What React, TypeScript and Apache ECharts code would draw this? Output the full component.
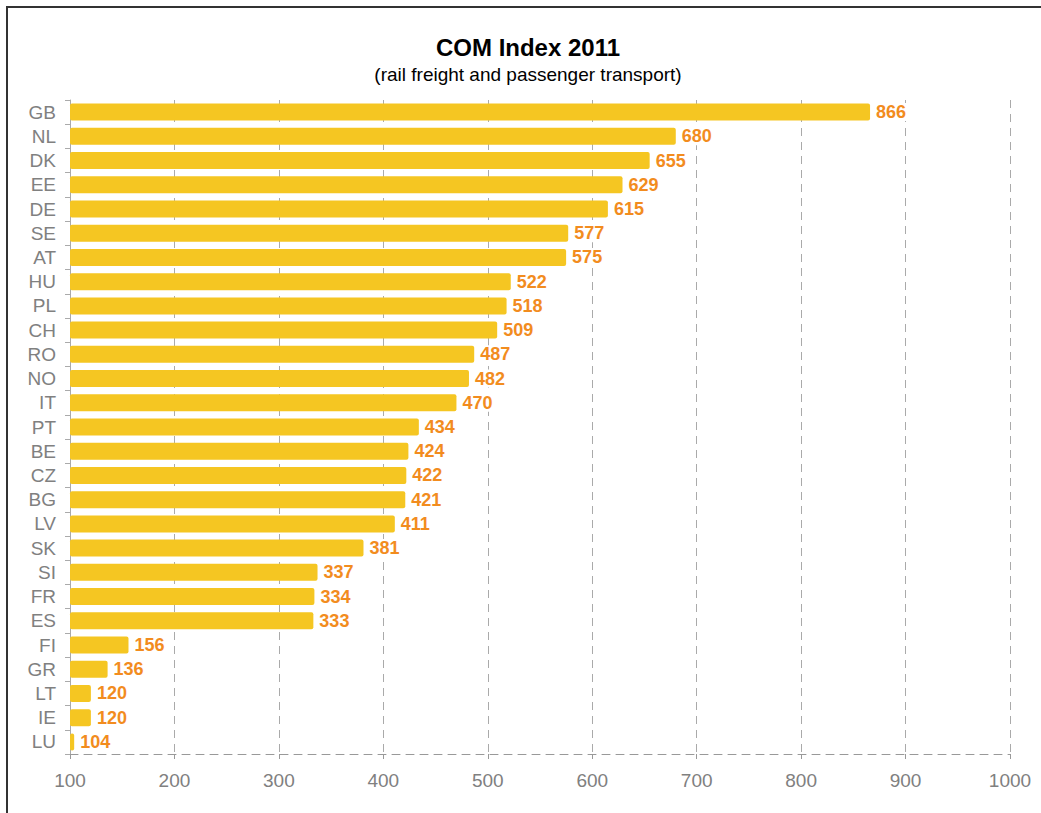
import React, { useEffect, useRef } from "react";
import * as echarts from "echarts";

const countries = ["GB","NL","DK","EE","DE","SE","AT","HU","PL","CH","RO","NO","IT","PT","BE","CZ","BG","LV","SK","SI","FR","ES","FI","GR","LT","IE","LU"];
const values = [866,680,655,629,615,577,575,522,518,509,487,482,470,434,424,422,421,411,381,337,334,333,156,136,120,120,104];
const xTicks = { min: 100, max: 1000, interval: 100 };
const titleText = "COM Index 2011";
const subtitleText = "(rail freight and passenger transport)";

export default function App() {
  const ref = useRef<HTMLDivElement>(null);
  useEffect(() => {
    const chart = echarts.init(ref.current!, null, { renderer: "svg" });
    const ff = "Liberation Sans, Arial, sans-serif";
    chart.setOption({
      animation: false,
      backgroundColor: "#ffffff",
      graphic: [
        { type: "rect", shape: { x: 7, y: 7, width: 1200, height: 1000 }, style: { fill: "none", stroke: "#333333", lineWidth: 2 }, z: 100 },
        { type: "text", x: 528, y: 35, style: { text: titleText, font: "bold 24px " + ff, fill: "#000", textAlign: "center" } },
        { type: "text", x: 528, y: 65, style: { text: subtitleText, font: "19px " + ff, fill: "#000", textAlign: "center" } }
      ],
      grid: { left: 70, right: 31, top: 100, bottom: 59, containLabel: false },
      xAxis: {
        type: "value",
        min: xTicks.min,
        max: xTicks.max,
        interval: xTicks.interval,
        axisLine: { show: true, lineStyle: { color: "#999", type: [8, 6], width: 1 } },
        axisTick: { show: true, length: 5, lineStyle: { color: "#999" } },
        axisLabel: { color: "#808080", fontSize: 19, fontFamily: ff, margin: 17, formatter: (v: number) => String(v) },
        splitLine: { show: true, lineStyle: { color: "#aaa", type: [8, 6], width: 1 } }
      },
      yAxis: {
        type: "category",
        data: countries,
        inverse: true,
        axisLine: { show: true, lineStyle: { color: "#aaa", width: 1 } },
        axisTick: { show: true, length: 5, interval: 0, lineStyle: { color: "#aaa" } },
        axisLabel: { color: "#808080", fontSize: 19, fontFamily: ff, margin: 14, interval: 0 }
      },
      series: [{
        type: "bar",
        data: values,
        barWidth: 17,
        itemStyle: { color: "#F5C622", borderRadius: 2 },
        label: {
          show: true,
          position: "right",
          distance: 5,
          color: "#F28C1E",
          fontWeight: "bold",
          fontSize: 18,
          fontFamily: ff,
          backgroundColor: "#ffffff",
          padding: [0, 1]
        }
      }]
    });
    return () => chart.dispose();
  }, []);
  return <div ref={ref} style={{ position: "absolute", left: 0, top: 0, width: 1041, height: 813 }} />;
}
